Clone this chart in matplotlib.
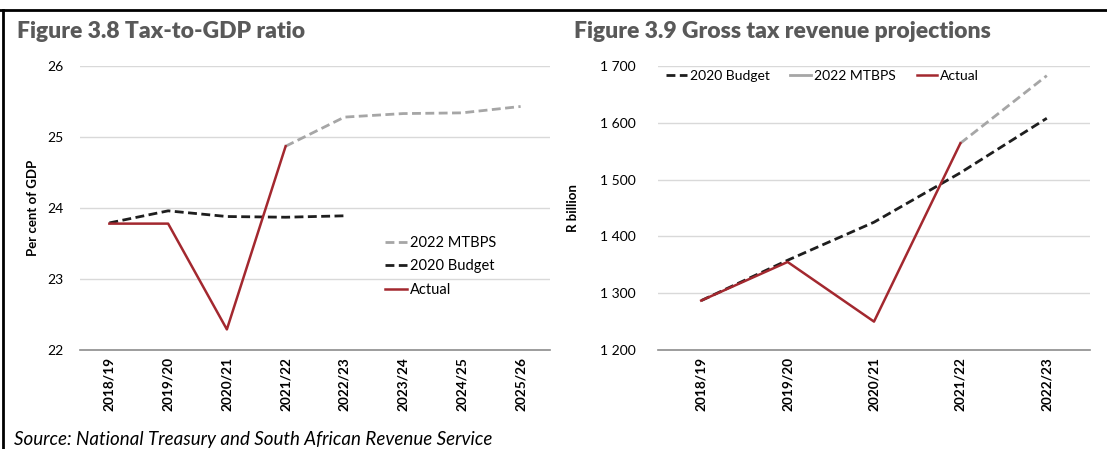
import matplotlib.pyplot as plt
from matplotlib.lines import Line2D

# fonts close to Calibri
plt.rcParams['font.family'] = ['Lato', 'DejaVu Sans']

# Figure 3.8 - tax-to-GDP ratio
years_l = ['2018/19', '2019/20', '2020/21', '2021/22', '2022/23', '2023/24', '2024/25', '2025/26']
actual_l = [23.78, 23.78, 22.29, 24.87]
budget_l = [23.79, 23.96, 23.88, 23.87, 23.89]
mtbps_l = [None, None, None, 24.87, 25.28, 25.33, 25.34, 25.43]

# Figure 3.9 - gross tax revenue (R billion)
years_r = ['2018/19', '2019/20', '2020/21', '2021/22', '2022/23']
actual_r = [1287, 1355, 1250, 1564]
budget_r = [1287, 1358, 1425, 1512, 1608]
mtbps_r = [None, None, None, 1564, 1683]

red = '#A3282F'
grey = '#A6A6A6'
black = '#1E1E1E'
dash = (3.2, 1.6)

W, H = 1107, 449
fig = plt.figure(figsize=(W / 100, H / 100), dpi=100)

def box(x0, y0, x1, y1):
    return [x0 / W, 1 - y1 / H, (x1 - x0) / W, (y1 - y0) / H]

def style(ax, ymin, ymax, step, fmt, pad):
    ax.set_ylim(ymin, ymax)
    ticks = list(range(ymin, ymax + 1, step))
    ax.set_yticks(ticks)
    ax.set_yticklabels([fmt(t) for t in ticks], fontsize=10)
    for t in ticks[1:]:
        ax.axhline(t, color='#D9D9D9', lw=1, zorder=0)
    for s in ['top', 'right', 'left']:
        ax.spines[s].set_visible(False)
    ax.spines['bottom'].set_color('#8C8C8C')
    ax.spines['bottom'].set_linewidth(1.2)
    ax.tick_params(length=0)
    ax.tick_params(axis='y', pad=pad)
    ax.tick_params(axis='x', pad=5)

def xs(vals):
    return [i for i, v in enumerate(vals) if v is not None], [v for v in vals if v is not None]

# left panel
ax1 = fig.add_axes(box(80, 66, 550, 350))
n = len(years_l)
ax1.set_xlim(-0.5, n - 0.5)
x, y = xs(mtbps_l)
ax1.plot(x, y, color=grey, lw=2, dashes=dash, label='2022 MTBPS')
ax1.plot(range(len(budget_l)), budget_l, color=black, lw=2, dashes=dash, label='2020 Budget')
ax1.plot(range(len(actual_l)), actual_l, color=red, lw=1.8, label='Actual')
style(ax1, 22, 26, 1, lambda t: str(t), 12)
ax1.set_xticks(range(n))
ax1.set_xticklabels(years_l, rotation=90, fontsize=9.8, fontweight='bold')
ax1.set_ylabel('Per cent of GDP', fontsize=9.5, fontweight='bold', labelpad=6)
ax1.legend(loc='upper left', bbox_to_anchor=(385 / W, 1 - 236 / H), bbox_transform=fig.transFigure,
           frameon=False, fontsize=10.5, handlelength=1.5, handletextpad=0.2, labelspacing=0.65,
           borderpad=0, borderaxespad=0)

# right panel
ax2 = fig.add_axes(box(658, 66, 1090, 350))
n = len(years_r)
ax2.set_xlim(-0.5, n - 0.5)
x, y = xs(mtbps_r)
ax2.plot(x, y, color=grey, lw=2, dashes=dash)
ax2.plot(range(len(budget_r)), budget_r, color=black, lw=2, dashes=dash)
ax2.plot(range(len(actual_r)), actual_r, color=red, lw=1.8)
style(ax2, 1200, 1700, 100, lambda t: '{} {:03d}'.format(t // 1000, t % 1000), 16)
ax2.set_xticks(range(n))
ax2.set_xticklabels(years_r, rotation=90, fontsize=9.8, fontweight='bold')
ax2.set_ylabel('R billion', fontsize=9.5, fontweight='bold', labelpad=15)
handles = [Line2D([], [], color=black, lw=2, dashes=dash),
           Line2D([], [], color=grey, lw=2),
           Line2D([], [], color=red, lw=1.8)]
ax2.legend(handles, ['2020 Budget', '2022 MTBPS', 'Actual'], loc='upper left',
           bbox_to_anchor=(666 / W, 1 - 70 / H), bbox_transform=fig.transFigure, ncol=3,
           frameon=False, fontsize=10, handlelength=1.5, handletextpad=0.2, columnspacing=1.5,
           borderpad=0, borderaxespad=0)

# titles, frame and source
fig.text(17 / W, 1 - 31 / H, 'Figure 3.8 Tax-to-GDP ratio', fontsize=16.5, fontweight='heavy',
         color='#595959', va='center')
fig.text(574 / W, 1 - 31 / H, 'Figure 3.9 Gross tax revenue projections', fontsize=16.5,
         fontweight='heavy', color='#595959', va='center')
fig.add_artist(Line2D([0, 1], [1 - 10 / H, 1 - 10 / H], color='black', lw=2))
fig.add_artist(Line2D([3 / W, 3 / W], [0, 1 - 10 / H], color='black', lw=2))
fig.text(14 / W, 1 - 445 / H, 'Source: National Treasury and South African Revenue Service',
         fontsize=13.5, style='italic', va='baseline')

fig.savefig('out.png', dpi=100)
